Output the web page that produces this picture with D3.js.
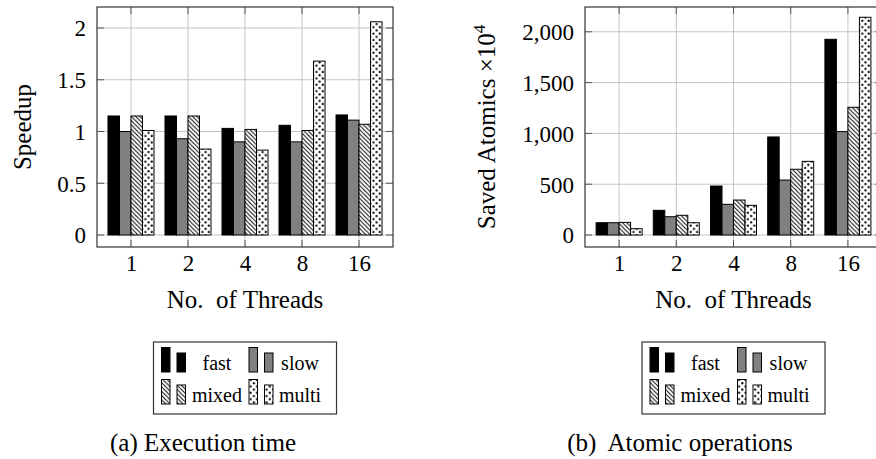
<!DOCTYPE html>
<html>
<head>
<meta charset="utf-8">
<script src="https://cdn.jsdelivr.net/npm/d3@7"></script>
<style>
	body { margin: 0; background: #fff; }
	svg { display: block; }
</style>
</head>
<body>
<svg id="chart" width="876" height="459"></svg>
<script>
// data
var threads = ["1", "2", "4", "8", "16"];
var seriesNames = ["fast", "slow", "mixed", "multi"];

var speedupFast  = [1.15, 1.15, 1.03, 1.06, 1.16];
var speedupSlow  = [1.00, 0.93, 0.90, 0.90, 1.11];
var speedupMixed = [1.15, 1.15, 1.02, 1.01, 1.07];
var speedupMulti = [1.01, 0.83, 0.82, 1.68, 2.06];

var atomicsFast  = [121, 243, 482, 965, 1926];
var atomicsSlow  = [121, 180, 302, 541, 1018];
var atomicsMixed = [124, 194, 344, 647, 1257];
var atomicsMulti = [62, 121, 292, 725, 2143];

var speedupTicks = [0, 0.5, 1, 1.5, 2];
var atomicsTicks = [0, 500, 1000, 1500, 2000];

var FONT = "Liberation Serif";
var svg = d3.select("#chart");
var fills = {
	fast: "#000",
	slow: "#808080",
	mixed: "url(#hatch)",
	multi: "url(#dots)"
};

// set font inline so nothing overrides it
function font(sel, size)
{
	return sel.attr("font-family", null).style("font-family", FONT).style("font-size", size + "px").attr("fill", "#000");
}

function initPatterns()
{
	var defs = svg.append("defs");

	var hatch = defs.append("pattern")
		.attr("id", "hatch")
		.attr("patternUnits", "userSpaceOnUse")
		.attr("width", 4.3).attr("height", 4.3);
	hatch.append("rect").attr("width", 4.3).attr("height", 4.3).attr("fill", "#fff");
	hatch.append("path")
		.attr("d", "M-1,-1L5.3,5.3M-1,3.3L1,5.3M3.3,-1L5.3,1")
		.attr("stroke", "#000")
		.attr("stroke-width", 1);

	var dots = defs.append("pattern")
		.attr("id", "dots")
		.attr("patternUnits", "userSpaceOnUse")
		.attr("width", 6.4).attr("height", 6.4);
	dots.append("rect").attr("width", 6.4).attr("height", 6.4).attr("fill", "#fff");
	dots.selectAll("circle").data([[1.6, 1.6], [4.8, 4.8]]).enter().append("circle")
		.attr("cx", function(d) { return d[0]; })
		.attr("cy", function(d) { return d[1]; })
		.attr("r", 1.1)
		.attr("fill", "#000");
}

function drawPanel(p)
{
	var g = svg.append("g");

	var x = d3.scalePoint().domain(threads).range([p.left, p.right]).padding(0.596);
	var xs = d3.scaleBand().domain(seriesNames).range([-23, 23]);
	var y = d3.scaleLinear().domain(p.yDomain).range([p.bottom, p.top]);

	// grid
	g.selectAll("line.vgrid").data(threads).enter().append("line")
		.attr("x1", function(d) { return x(d); })
		.attr("x2", function(d) { return x(d); })
		.attr("y1", p.top).attr("y2", p.bottom)
		.attr("stroke", "#c4c4c4").attr("stroke-width", 1);
	g.selectAll("line.hgrid").data(p.ticks).enter().append("line")
		.attr("x1", p.left).attr("x2", p.right)
		.attr("y1", function(d) { return y(d); })
		.attr("y2", function(d) { return y(d); })
		.attr("stroke", "#c4c4c4").attr("stroke-width", 1);

	// inside tick marks
	var tl = 7;
	g.selectAll("line.ytl").data(p.ticks).enter().append("line")
		.attr("x1", p.left).attr("x2", p.left + tl)
		.attr("y1", function(d) { return y(d); })
		.attr("y2", function(d) { return y(d); })
		.attr("stroke", "#555");
	g.selectAll("line.ytr").data(p.ticks).enter().append("line")
		.attr("x1", p.right).attr("x2", p.right - tl)
		.attr("y1", function(d) { return y(d); })
		.attr("y2", function(d) { return y(d); })
		.attr("stroke", "#555");
	g.selectAll("line.xtt").data(threads).enter().append("line")
		.attr("x1", function(d) { return x(d); })
		.attr("x2", function(d) { return x(d); })
		.attr("y1", p.top).attr("y2", p.top + tl)
		.attr("stroke", "#555");
	g.selectAll("line.xtb").data(threads).enter().append("line")
		.attr("x1", function(d) { return x(d); })
		.attr("x2", function(d) { return x(d); })
		.attr("y1", p.bottom).attr("y2", p.bottom - tl)
		.attr("stroke", "#555");

	// bars
	var rows = threads.map(function(t, i) {
		return seriesNames.map(function(s, j) {
			return { t: t, s: s, v: p.values[j][i] };
		});
	});
	var groups = g.selectAll("g.grp").data(rows).enter().append("g")
		.attr("transform", function(d, i) { return "translate(" + x(threads[i]) + ",0)"; });
	groups.selectAll("rect").data(function(d) { return d; }).enter().append("rect")
		.attr("x", function(d) { return xs(d.s); })
		.attr("width", xs.bandwidth())
		.attr("y", function(d) { return y(d.v); })
		.attr("height", function(d) { return y(0) - y(d.v); })
		.attr("fill", function(d) { return fills[d.s]; })
		.attr("stroke", "#000")
		.attr("stroke-width", 1);

	// frame
	g.append("rect")
		.attr("x", p.left).attr("y", p.top)
		.attr("width", p.right - p.left).attr("height", p.bottom - p.top)
		.attr("fill", "none").attr("stroke", "#333").attr("stroke-width", 1.2);

	// axes labels (d3 axes, no lines)
	var yAxis = g.append("g")
		.attr("transform", "translate(" + (p.left - 11) + ",0)")
		.call(d3.axisLeft(y).tickValues(p.ticks).tickFormat(p.format).tickSize(0).tickPadding(0));
	yAxis.attr("font-family", FONT);
	yAxis.select(".domain").remove();
	font(yAxis.selectAll("text"), 23).attr("dy", "0.34em");

	var xAxis = g.append("g")
		.attr("transform", "translate(0," + 271 + ")")
		.call(d3.axisBottom(x).tickSize(0).tickPadding(0));
	xAxis.attr("font-family", FONT);
	xAxis.select(".domain").remove();
	font(xAxis.selectAll("text"), 23).attr("dy", 0).attr("y", 0);

	var cx = (p.left + p.right) / 2;
	font(g.append("text"), 25)
		.attr("x", cx).attr("y", 308)
		.attr("text-anchor", "middle")
		.style("white-space", "pre")
		.text("No.  of Threads");

	var yl = font(g.append("text"), 25)
		.attr("transform", "translate(" + p.ylabelX + "," + ((p.top + p.bottom) / 2) + ") rotate(-90)")
		.attr("text-anchor", "middle");
	yl.append("tspan").text(p.ylabel);
	if (p.ylabelSup) {
		yl.append("tspan").attr("dy", -10).style("font-size", "17px").text(p.ylabelSup);
	}

	font(g.append("text"), 25)
		.attr("x", p.captionX).attr("y", 451)
		.attr("text-anchor", "middle")
		.style("white-space", "pre")
		.text(p.caption);

	drawLegend(g, cx - 91.5, 342);
}

function drawLegend(g, lx, ly)
{
	var lg = g.append("g").attr("transform", "translate(" + lx + "," + ly + ")");
	lg.append("rect")
		.attr("width", 183).attr("height", 72)
		.attr("fill", "#fff").attr("stroke", "#333").attr("stroke-width", 1.2);

	var cells = seriesNames.map(function(s, i) {
		return { s: s, col: i % 2, row: Math.floor(i / 2) };
	});
	var cell = lg.selectAll("g.cell").data(cells).enter().append("g")
		.attr("transform", function(d) {
			return "translate(" + (d.col ? 95.5 : 8) + "," + (d.row ? 62 : 30) + ")";
		});
	cell.append("rect")
		.attr("x", 0).attr("width", 8.5)
		.attr("y", -24.5).attr("height", 24.5)
		.attr("fill", function(d) { return fills[d.s]; })
		.attr("stroke", "#000").attr("stroke-width", 1);
	cell.append("rect")
		.attr("x", 15.5).attr("width", 8.5)
		.attr("y", -19).attr("height", 19)
		.attr("fill", function(d) { return fills[d.s]; })
		.attr("stroke", "#000").attr("stroke-width", 1);
	font(cell.append("text"), 20)
		.attr("x", function(d) { return d.col ? 51 : 55.5; })
		.attr("y", -2.5)
		.attr("text-anchor", "middle")
		.text(function(d) { return d.s; });
}

initPatterns();

drawPanel({
	left: 97, right: 393, top: 7, bottom: 247,
	yDomain: [-0.116, 2.203],
	ticks: speedupTicks,
	format: d3.format(""),
	values: [speedupFast, speedupSlow, speedupMixed, speedupMulti],
	ylabel: "Speedup",
	ylabelX: 31,
	caption: "(a) Execution time",
	captionX: 203
});

drawPanel({
	left: 585, right: 882, top: 7, bottom: 247,
	yDomain: [-118, 2244],
	ticks: atomicsTicks,
	format: d3.format(","),
	values: [atomicsFast, atomicsSlow, atomicsMixed, atomicsMulti],
	ylabel: "Saved  Atomics  ×10",
	ylabelSup: "4",
	ylabelX: 495,
	caption: "(b)  Atomic operations",
	captionX: 680
});
</script>
</body>
</html>
